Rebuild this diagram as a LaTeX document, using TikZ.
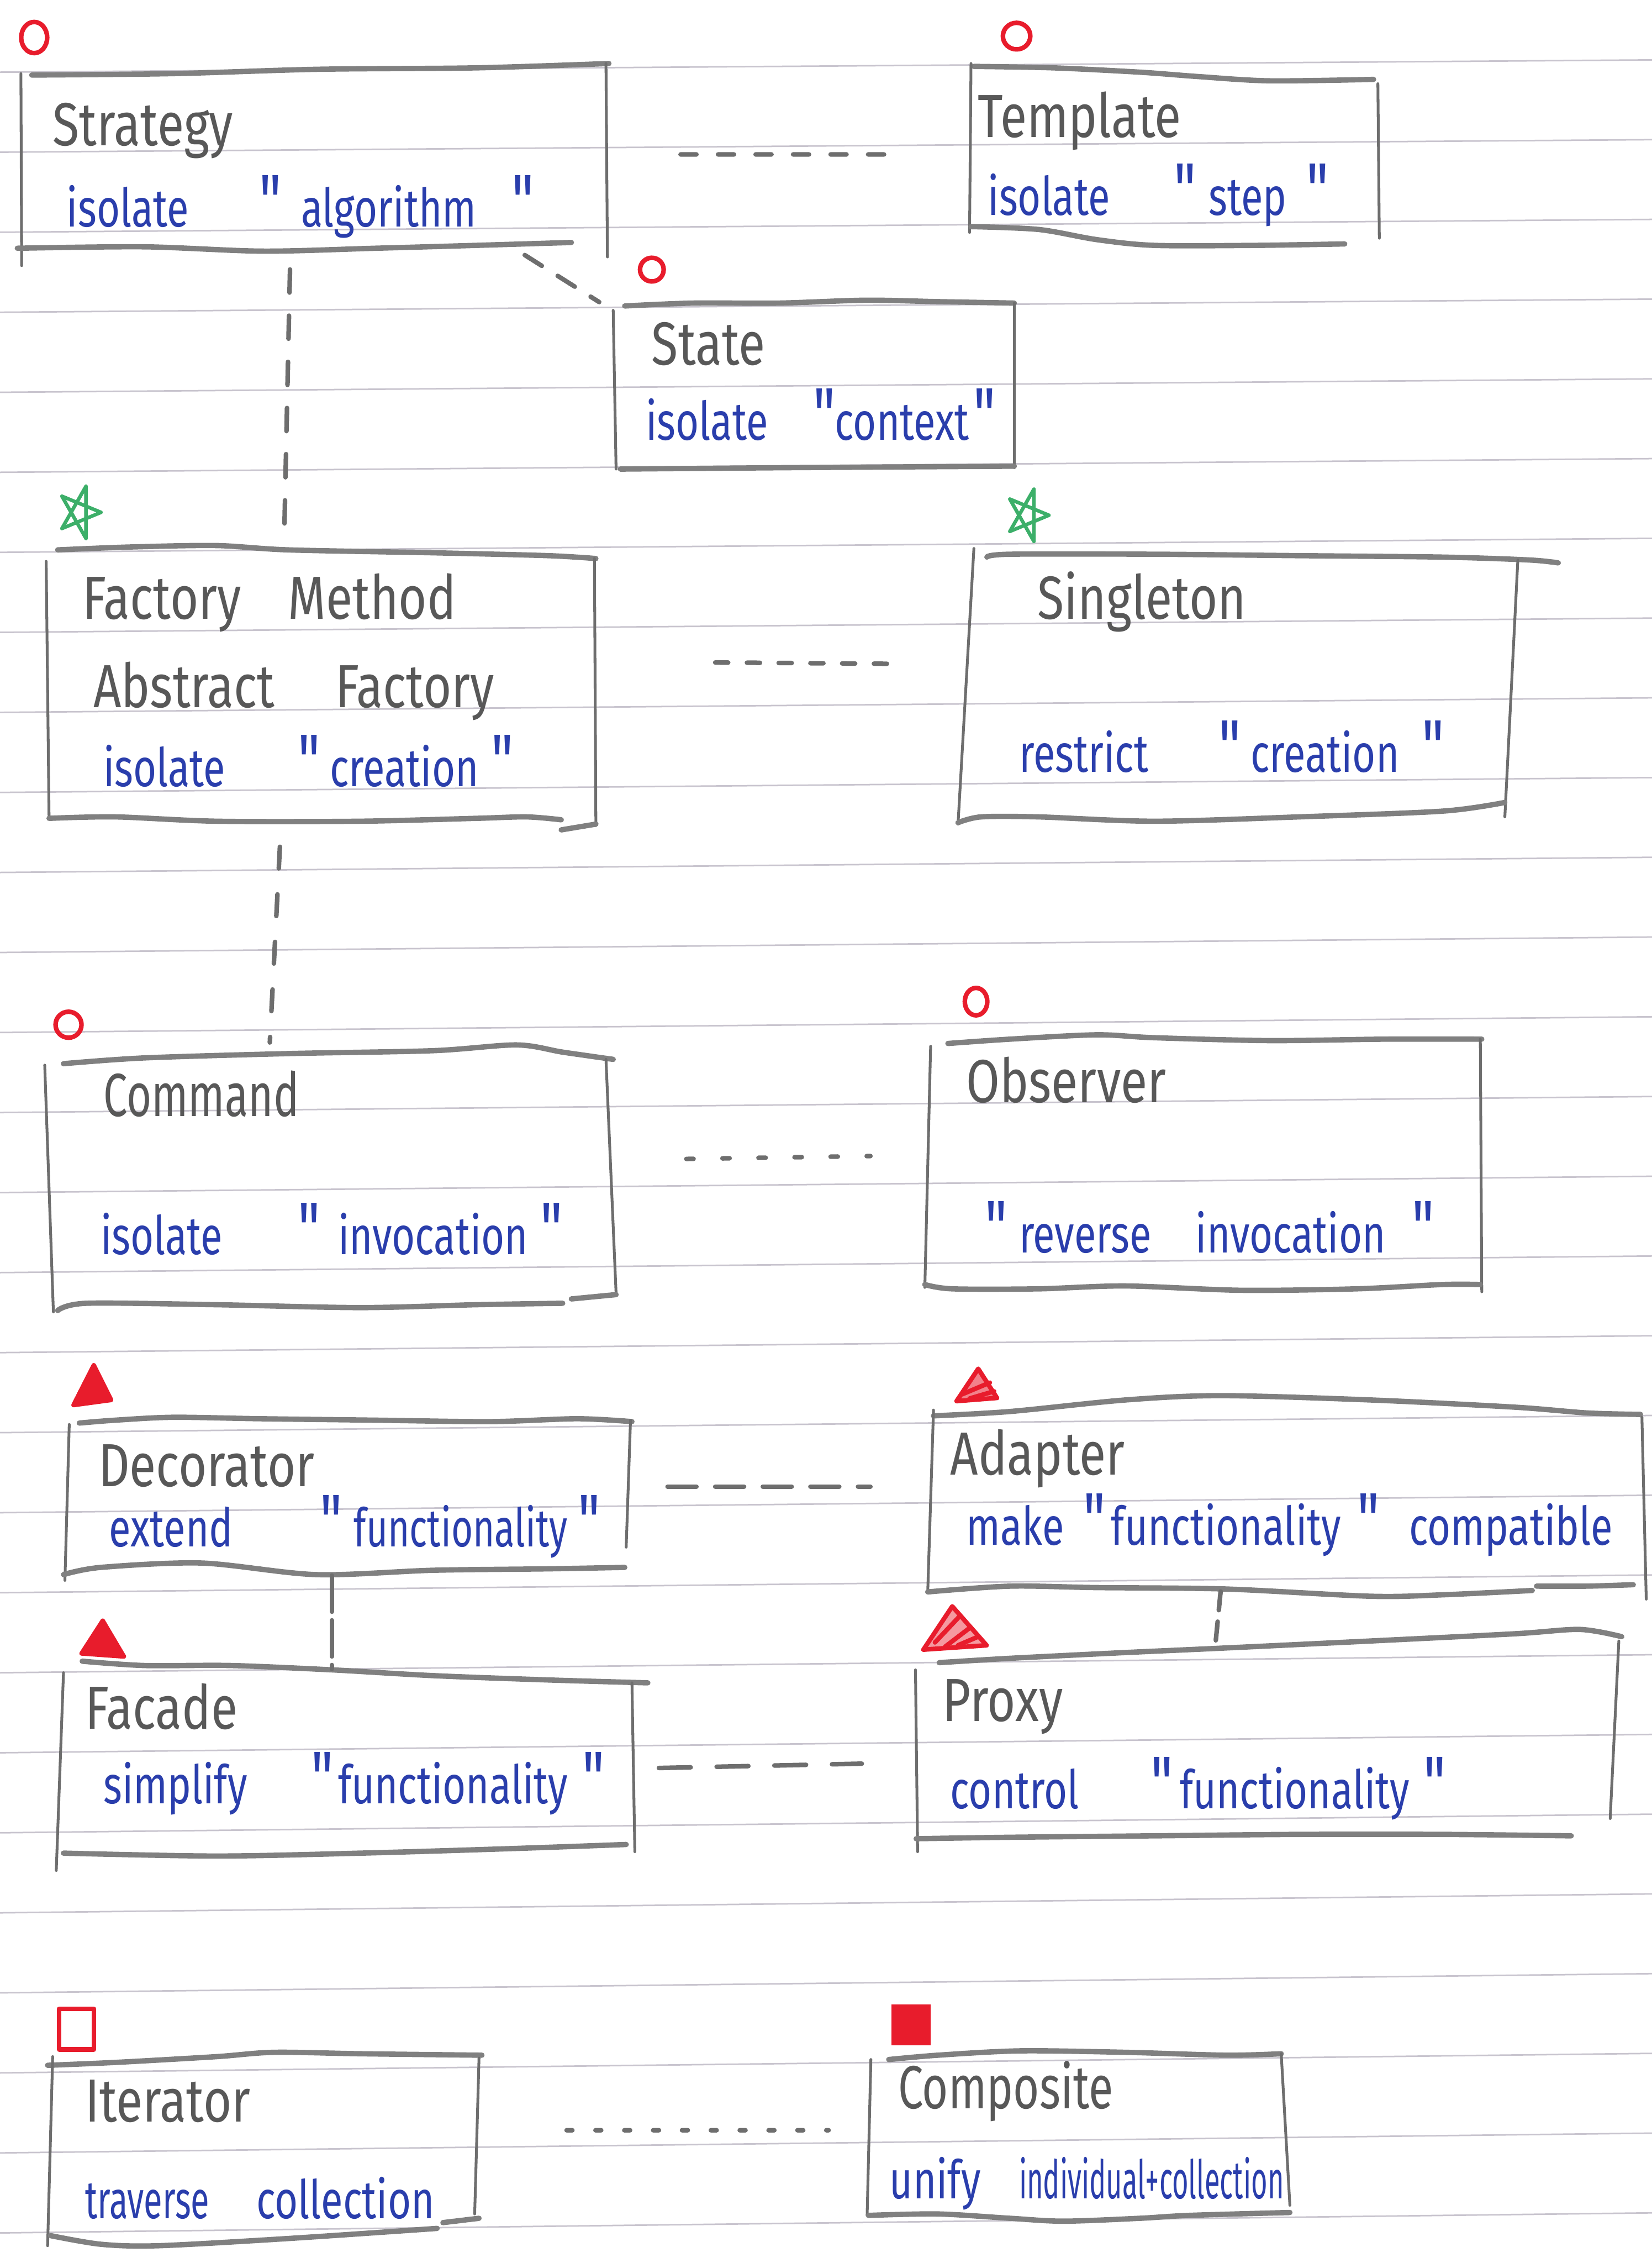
\documentclass[tikz,border=0pt]{standalone}
\usepackage{fontspec}
\usepackage{graphicx}
\newfontfamily\handfont[FakeStretch=0.8]{Fira Sans}
\newfontfamily\inkfont[FakeStretch=0.75]{Fira Sans}
\usetikzlibrary{calc,fit}

\definecolor{pencil}{RGB}{128,128,128}
\definecolor{pencilside}{RGB}{110,110,110}
\definecolor{inkgrey}{RGB}{88,88,88}
\definecolor{inkblue}{RGB}{42,62,172}
\definecolor{marker}{RGB}{232,28,44}
\definecolor{starink}{RGB}{60,175,105}
\definecolor{ruling}{RGB}{200,196,206}

% a word set in a box of fixed width, so the next word starts where it should
\newcommand{\seg}[2]{\makebox[#1][l]{#2}}
% tall hand-written double quote
\newcommand{\hq}{\scalebox{1.4}{"}}

\begin{document}
\begin{tikzpicture}[x=0.1mm, y=-0.1mm,
  area/.style={inner sep=0pt, draw=none},
  boxrim/.style={draw=pencil, line width=1.05pt, line cap=round, line join=round},
  boxside/.style={draw=pencilside, line width=0.55pt, line cap=round},
  ruledline/.style={draw=ruling, line width=0.3pt},
  titletext/.style={anchor=base west, inner sep=0pt, text=inkgrey, font=\handfont\fontsize{12}{14}\selectfont},
  bodytext/.style={anchor=base west, inner sep=0pt, text=inkblue, font=\inkfont\fontsize{10.5}{12}\selectfont},
  conn/.style={draw=pencilside, line width=0.9pt, line cap=round},
  markerline/.style={draw=marker, line width=0.9pt, line join=round, line cap=round},
  starline/.style={draw=starink, line width=0.7pt, line join=round},
  pentastar/.pic={\draw[starline] (15,0) -- (-12.1,-11.2) -- (4.6,18.1) -- (4.6,-18.1) -- (-12.1,11.2) -- cycle;}
]
\fill[white] (0,0) rectangle (1145,1568);
\useasboundingbox (0,0) rectangle (1145,1568);

% ruled paper
\foreach \k in {0,...,27}{
  \pgfmathsetmacro{\yl}{50+55.45*\k}
  \pgfmathsetmacro{\yr}{\yl-8.5-0.2*\k}
  \draw[ruledline] (0,\yl) -- (1145,\yr);
}

% areas of the pattern cards
\node[area, fit={(12,43) (421,184)}] (strategy) {};
\node[area, fit={(672,44) (956,170)}] (template) {};
\node[area, fit={(425,208) (703,326)}] (state) {};
\node[area, fit={(32,378) (413,575)}] (factory) {};
\node[area, fit={(664,380) (1080,571)}] (singleton) {};
\node[area, fit={(31,724) (427,909)}] (command) {};
\node[area, fit={(641,717) (1027,895)}] (observer) {};
\node[area, fit={(44,982) (438,1095)}] (decorator) {};
\node[area, fit={(642,967) (1141,1108)}] (adapter) {};
\node[area, fit={(39,1151) (449,1296)}] (facade) {};
\node[area, fit={(634,1129) (1124,1284)}] (proxy) {};
\node[area, fit={(33,1422) (334,1556)}] (iterator) {};
\node[area, fit={(601,1420) (894,1539)}] (composite) {};

% hand-drawn frames
% Strategy
\draw[boxrim] plot[smooth] coordinates {(22,52) (120,51) (220,48) (330,47) (422,44)};
\draw[boxside] (14.5,51) -- (15,184);
\draw[boxside] (420,44) -- (421,178);
\draw[boxrim] plot[smooth] coordinates {(12,172) (100,171) (182,174) (260,172) (330,170) (396,168)};
% Template
\draw[boxrim] plot[smooth] coordinates {(675,46) (730,47) (790,50) (830,53) (880,56) (952,55)};
\draw[boxside] (673,44) -- (672,161);
\draw[boxside] (955,58) -- (956,165);
\draw[boxrim] plot[smooth] coordinates {(673,157) (720,159) (760,166) (800,170) (870,170) (932,169)};
% State
\draw[boxrim] plot[smooth] coordinates {(433,212) (480,210) (540,210) (600,208) (650,209) (703,210)};
\draw[boxside] (425,215) -- (427,325);
\draw[boxside] (703,210) -- (703,324);
\draw[boxrim] plot[smooth] coordinates {(430,325) (550,324) (703,323)};
% Factory Method / Abstract Factory
\draw[boxrim] plot[smooth] coordinates {(40,381) (90,379) (150,378) (200,381) (300,383) (380,385) (413,387)};
\draw[boxside] (32,389) -- (34,566);
\draw[boxside] (412,387) -- (413,572);
\draw[boxrim] plot[smooth] coordinates {(34,567) (80,566) (150,569) (250,569) (330,567) (365,566) (389,568)};
\draw[boxrim] (389,575) -- (413,571);
% Singleton
\draw[boxrim] plot[smooth] coordinates {(684,386) (700,384) (800,384) (900,385) (1000,386) (1060,388) (1080,390)};
\draw[boxside] (675,380) -- (664,571);
\draw[boxside] (1052,388) -- (1043,566);
\draw[boxrim] plot[smooth] coordinates {(664,570) (680,566) (720,566) (800,569) (900,566) (1000,562) (1043,556)};
% Command
\draw[boxrim] plot[smooth] coordinates {(44,737) (100,733) (200,730) (300,728) (358,724) (390,729) (425,734)};
\draw[boxside] (31,738) -- (37,909);
\draw[boxside] (420,734) -- (427,896);
\draw[boxrim] plot[smooth] coordinates {(40,908) (60,903) (150,904) (250,906) (330,904) (390,903)};
\draw[boxrim] (396,900) -- (427,897);
% Observer
\draw[boxrim] plot[smooth] coordinates {(657,723) (700,720) (760,717) (800,719) (880,721) (960,720) (1027,720)};
\draw[boxside] (645,725) -- (641,892);
\draw[boxside] (1026,720) -- (1027,895);
\draw[boxrim] plot[smooth] coordinates {(641,890) (660,893) (720,893) (780,891) (860,894) (940,893) (1000,890) (1026,890)};
% Decorator
\draw[boxrim] plot[smooth] coordinates {(55,986) (80,984) (120,982) (180,983) (260,984) (340,985) (400,983) (438,985)};
\draw[boxside] (48,987) -- (45,1095);
\draw[boxside] (437,984) -- (434,1072);
\draw[boxrim] plot[smooth] coordinates {(44,1091) (70,1086) (140,1083) (219,1091) (300,1088) (380,1087) (433,1086)};
% Adapter
\draw[boxrim] plot[smooth] coordinates {(647,981) (700,978) (780,970) (846,967) (950,970) (1050,975) (1100,979) (1137,980)};
\draw[boxside] (647,977) -- (643,1103);
\draw[boxside] (1138,982) -- (1141,1108);
\draw[boxrim] plot[smooth] coordinates {(643,1103) (700,1099) (760,1100) (850,1101) (950,1106) (1000,1105) (1062,1102)};
\draw[boxrim] plot[smooth] coordinates {(1065,1099) (1100,1099) (1132,1098)};
% Facade
\draw[boxrim] plot[smooth] coordinates {(57,1151) (100,1154) (160,1154) (230,1157) (300,1161) (380,1164) (449,1166)};
\draw[boxside] (44,1159) -- (39,1296);
\draw[boxside] (438,1166) -- (440,1283);
\draw[boxrim] plot[smooth] coordinates {(44,1284) (150,1286) (250,1284) (350,1281) (434,1278)};
% Proxy
\draw[boxrim] plot[smooth] coordinates {(651,1152) (700,1149) (780,1145) (846,1142) (950,1137) (1050,1132) (1095,1129) (1124,1134)};
\draw[boxside] (634.5,1157) -- (636,1283);
\draw[boxside] (1122,1137) -- (1116,1260);
\draw[boxrim] plot[smooth] coordinates {(635,1274) (700,1273) (800,1272) (900,1271) (1000,1271) (1089,1272)};
% Iterator
\draw[boxrim] plot[smooth] coordinates {(33,1431) (80,1429) (150,1425) (190,1422) (250,1423) (334,1424)};
\draw[boxside] (36.5,1425) -- (33,1556);
\draw[boxside] (332,1426) -- (329,1534);
\draw[boxrim] plot[smooth] coordinates {(35,1549) (70,1555) (110,1556) (200,1551) (303,1544)};
\draw[boxrim] (307,1540) -- (332,1537);
% Composite
\draw[boxrim] plot[smooth] coordinates {(616,1427) (650,1424) (707,1421) (780,1422) (850,1424) (888,1423)};
\draw[boxside] (603.6,1427) -- (601,1535);
\draw[boxside] (888,1423) -- (894,1528);
\draw[boxrim] plot[smooth] coordinates {(602,1535) (650,1534) (700,1537) (737,1539) (790,1537) (824,1535) (894,1533)};

% category markers
\draw[markerline] (23.7,26) ellipse [x radius=0.9mm, y radius=1.08mm];
\draw[markerline] (704.6,25) ellipse [x radius=0.95mm, y radius=0.92mm];
\draw[markerline] (451.8,186.8) ellipse [x radius=0.82mm, y radius=0.82mm];
\draw[markerline] (47.5,710) ellipse [x radius=0.9mm, y radius=0.9mm];
\draw[markerline] (676.5,694) ellipse [x radius=0.78mm, y radius=0.95mm];
\pic at (55,355) {pentastar};
\pic at (712,357) {pentastar};
\filldraw[markerline, fill=marker] (65,946) -- (51,973.5) -- (77,970) -- cycle;
\filldraw[markerline, fill=marker] (71.2,1123) -- (56.6,1145.6) -- (85.8,1147.7) -- cycle;
\filldraw[markerline, fill=marker!55] (678,948.4) -- (663,970.8) -- (691,968.6) -- cycle;
\draw[markerline] (667,966) -- (686,958) (672,969) -- (689,964);
\filldraw[markerline, fill=marker!45] (660,1113) -- (640,1143) -- (683.8,1140) -- cycle;
\draw[markerline] (648,1138) -- (665,1120) (655,1141) -- (672,1128) (664,1140) -- (678,1134);
\draw[markerline] (41,1392) rectangle (65,1420);
\fill[marker] (618,1389) rectangle (645,1417);

% names and intents
\node[titletext] (strategy-name) at (36,101) {Strategy};
\node[bodytext] (strategy-intent) at (45.6,157) {\seg{13.34mm}{isolate}\seg{2.9mm}{\hq}\seg{14.6mm}{algorithm}\hq};
\node[titletext] (template-name) at (677,95) {Template};
\node[bodytext] (template-intent) at (684,149) {\seg{12.9mm}{isolate}\seg{2.4mm}{\hq}\seg{6.8mm}{step}\hq};
\node[titletext] (state-name) at (451,253) {State};
\node[bodytext] (state-intent) at (447,305) {\seg{11.6mm}{isolate}\seg{1.5mm}{\hq}\seg{9.6mm}{context}\hq};
\node[titletext] (factory-name) at (56.6,429) {\seg{14.24mm}{Factory}Method};
\node[titletext] (abstract-name) at (64,490) {\seg{16.8mm}{Abstract}Factory};
\node[bodytext] (factory-intent) at (71,545) {\seg{13.5mm}{isolate}\seg{2.2mm}{\hq}\seg{11.2mm}{creation}\hq};
\node[titletext] (singleton-name) at (718.5,429) {Singleton};
\node[bodytext] (singleton-intent) at (705.7,535) {\seg{13.83mm}{restrict}\seg{2.2mm}{\hq}\seg{11.9mm}{creation}\hq};
\node[titletext] (command-name) at (71,773.5) {\scalebox{0.88}[1]{Command}};
\node[bodytext] (command-intent) at (69,869) {\seg{13.7mm}{isolate}\seg{2.76mm}{\hq}\seg{14.04mm}{invocation}\hq};
\node[titletext] (observer-name) at (669,764) {Observer};
\node[bodytext] (observer-intent) at (682,868) {\seg{2.36mm}{\hq}\seg{12.24mm}{reverse}\seg{15mm}{invocation}\hq};
\node[titletext] (decorator-name) at (67.5,1030) {Decorator};
\node[bodytext] (decorator-intent) at (75,1071.6) {\seg{14.6mm}{extend}\seg{2.36mm}{\hq}\seg{15.54mm}{\scalebox{0.93}[1]{functionality}}\hq};
\node[titletext] (adapter-name) at (658,1022) {Adapter};
\node[bodytext] (adapter-intent) at (669,1070.5) {\seg{8.1mm}{make}\seg{1.95mm}{\hq}\seg{17.05mm}{functionality}\seg{3.6mm}{\hq}compatible};
\node[titletext] (facade-name) at (58.4,1198) {Facade};
\node[bodytext] (facade-intent) at (71,1249.7) {\seg{14.4mm}{simplify}\seg{1.86mm}{\hq}\seg{16.94mm}{functionality}\hq};
\node[titletext] (proxy-name) at (652.7,1192.6) {Proxy};
\node[bodytext] (proxy-intent) at (658,1253) {\seg{13.9mm}{control}\seg{2mm}{\hq}\seg{16.9mm}{functionality}\hq};
\node[titletext] (iterator-name) at (58.4,1470) {Iterator};
\node[bodytext] (iterator-intent) at (58.4,1537) {\seg{11.86mm}{\scalebox{0.85}[1]{traverse}}collection};
\node[titletext] (composite-name) at (621.8,1461) {\scalebox{0.92}[1]{Composite}};
\node[bodytext] (composite-intent) at (616,1523.5) {\seg{8.96mm}{unify}\scalebox{0.7}[1]{individual+collection}};

% relations between patterns
\draw[conn, dash pattern=on 1.1mm off 1.5mm] ($(strategy.east)+(50,-6.5)$) -- ($(template.west)+(-45,0)$);
\draw[conn, dash pattern=on 1.4mm off 1.3mm] ($(strategy.south east)+(-58,-8)$) -- ($(state.north west)+(-9,2)$);
\draw[conn, dash pattern=on 1.6mm off 1.6mm] ($(strategy.south)+(-15.5,2)$) -- ($(factory.north)+(-25.5,-6)$);
\draw[conn, dash pattern=on 0.9mm off 1.3mm] ($(factory.east)+(82,-17.5)$) -- ($(singleton.west)+(-37,-15.5)$);
\draw[conn, dash pattern=on 1.5mm off 1.8mm] ($(factory.south)+(-28.5,11)$) -- ($(command.north)+(-42,-1)$);
\draw[conn, dash pattern=on 0.5mm off 2mm] ($(command.east)+(48,-13.5)$) -- ($(observer.west)+(-37,-5)$);
\draw[conn, dash pattern=on 2mm off 1.3mm] ($(decorator.east)+(24,-8.5)$) -- ($(adapter.west)+(-38,-7.5)$);
\draw[conn, dash pattern=on 2.5mm off 0.6mm] ($(decorator.south)+(-11,-4)$) -- ($(facade.north)+(-14,6)$);
\draw[conn, dash pattern=on 1.3mm off 0.8mm] ($(adapter.south)+(-45.5,-6)$) -- ($(proxy.north)+(-37,15)$);
\draw[conn, dash pattern=on 2.2mm off 1.8mm] ($(facade.east)+(7,1.5)$) -- ($(proxy.west)+(-36,15.5)$);
\draw[conn, dash pattern=on 0.4mm off 1.6mm] ($(iterator.east)+(58,-13)$) -- ($(composite.west)+(-26,-3.5)$);
\end{tikzpicture}
\end{document}
